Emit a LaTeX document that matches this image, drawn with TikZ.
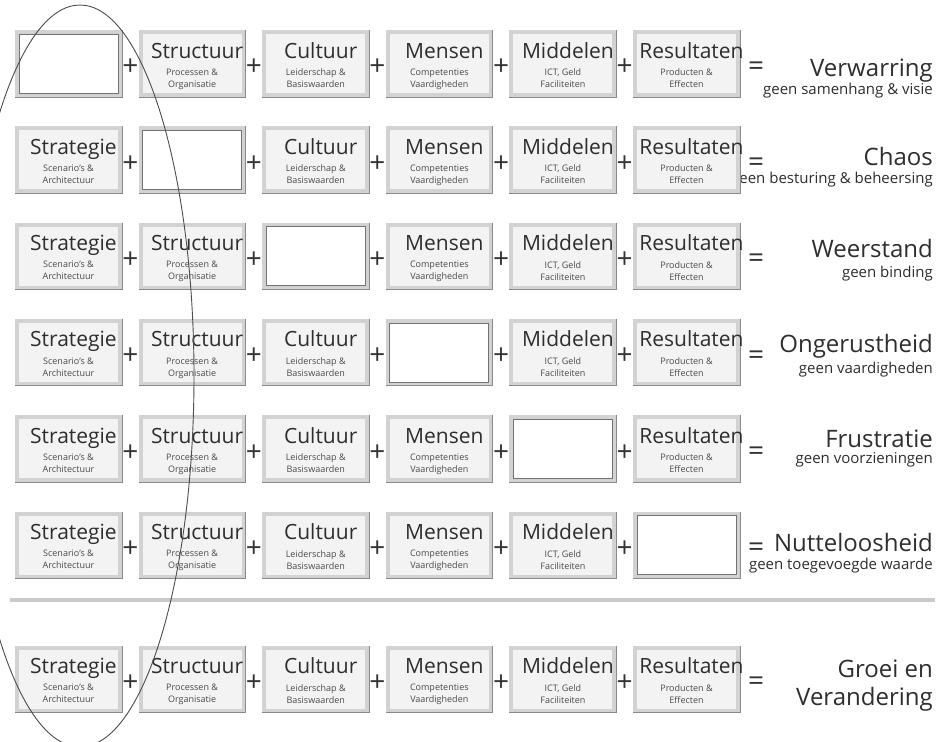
\documentclass[tikz,border=0pt]{standalone}
\usepackage{fontspec}
\setmainfont{Open Sans}
\usetikzlibrary{positioning,calc}

\definecolor{framegray}{HTML}{D2D2D2}
\definecolor{edgegray}{HTML}{8A8A8A}
\definecolor{cellfill}{HTML}{F3F3F3}
\definecolor{inkgray}{HTML}{2E2E2E}
\definecolor{notegray}{HTML}{4A4A4A}
\definecolor{rulegray}{HTML}{CACACA}

\begin{document}
\begin{tikzpicture}[
    x=1pt, y=-1pt,
    node distance=16.6pt,
    cell/.style={draw=framegray, line width=4pt, minimum width=103pt, minimum height=63pt, inner sep=0pt},
    edge/.style={draw=edgegray, line width=0.9pt},
    hole/.style={draw=black!55, line width=0.7pt},
    head/.style={font=\fontsize{21}{23}\selectfont, text=inkgray, anchor=base, inner sep=0pt},
    tag/.style={font=\fontsize{9}{12}\selectfont, text=notegray, align=center, anchor=north, inner sep=0pt},
    sign/.style={font=\fontsize{28}{28}\selectfont, text=black!80, inner sep=0pt},
    result/.style={font=\fontsize{24}{26}\selectfont, text=inkgray, anchor=base east, inner sep=0pt},
    note/.style={font=\fontsize{15}{17}\selectfont, text=inkgray, anchor=base east, inner sep=0pt},
    loopline/.style={draw=black!70, line width=0.9pt}
]
\useasboundingbox[fill=white] (0,0) rectangle (938,742);

% uitkomsten eerst, de kaders dekken de overloop af
\foreach \r/\ty/\sy/\res/\why in {1/76/94/Verwarring/geen samenhang \& visie,
    2/165/183/Chaos/geen besturing \& beheersing, 3/257/277/Weerstand/geen binding,
    4/352/373/Ongerustheid/geen vaardigheden, 5/447/463/Frustratie/geen voorzieningen,
    6/551/569/Nutteloosheid/geen toegevoegde waarde}
  {
  \node[result] (res\r) at (933,\ty) {\res};
  \node[note] (why\r) at (933,\sy) {\why};
  }
\node[result] (res7) at (933,677) {Groei en};
\node[result] (why7) at (933,705) {Verandering};

\foreach \r/\y/\gap in {1/63.5/1, 2/159.8/2, 3/256.1/3, 4/352.4/4, 5/448.7/5, 6/545/6, 7/679/0}
  {
  \foreach \c/\name/\la/\lb [remember=\c as \p (initially 0)] in
    {1/Strategie/Scenario's \&/Architectuur, 2/Structuur/Processen \&/Organisatie,
     3/Cultuur/Leiderschap \&/Basiswaarden, 4/Mensen/Competenties/Vaardigheden,
     5/Middelen/ICT{,} Geld/Faciliteiten, 6/Resultaten/Producten \&/Effecten}
    {
    \ifnum\c=\gap \def\cellcol{white}\else\def\cellcol{cellfill}\fi
    \ifnum\c=1
      \node[cell, fill=\cellcol] (b\r\c) at (68.5,\y) {};
    \else
      \node[cell, fill=\cellcol, right=of b\r\p] (b\r\c) {};
      \node[sign] (p\r\c) at ($(b\r\p.east)!0.5!(b\r\c.west)+(0,4)$) {+};
    \fi
    \draw[edge] (b\r\c.north east) -- (b\r\c.south east) -- (b\r\c.south west);
    \ifnum\c=\gap
      \draw[hole] ([shift={(4,4)}]b\r\c.north west) rectangle ([shift={(-4,-4)}]b\r\c.south east);
    \else
      \node[head] (t\r\c) at ([xshift=5pt,yshift=5.5pt]b\r\c.center) {\name};
      \node[tag] (d\r\c) at ([yshift=-5pt]b\r\c.center) {\la\\\lb};
    \fi
    }
  \node[sign] (eq\r) at ([xshift=16pt,yshift=-5pt]b\r6.east) {=};
  }

\draw[draw=rulegray, line width=4.5pt] (10,600) -- (935,600);
\draw[loopline] (80,376) ellipse [x radius=114, y radius=371];
\end{tikzpicture}
\end{document}
